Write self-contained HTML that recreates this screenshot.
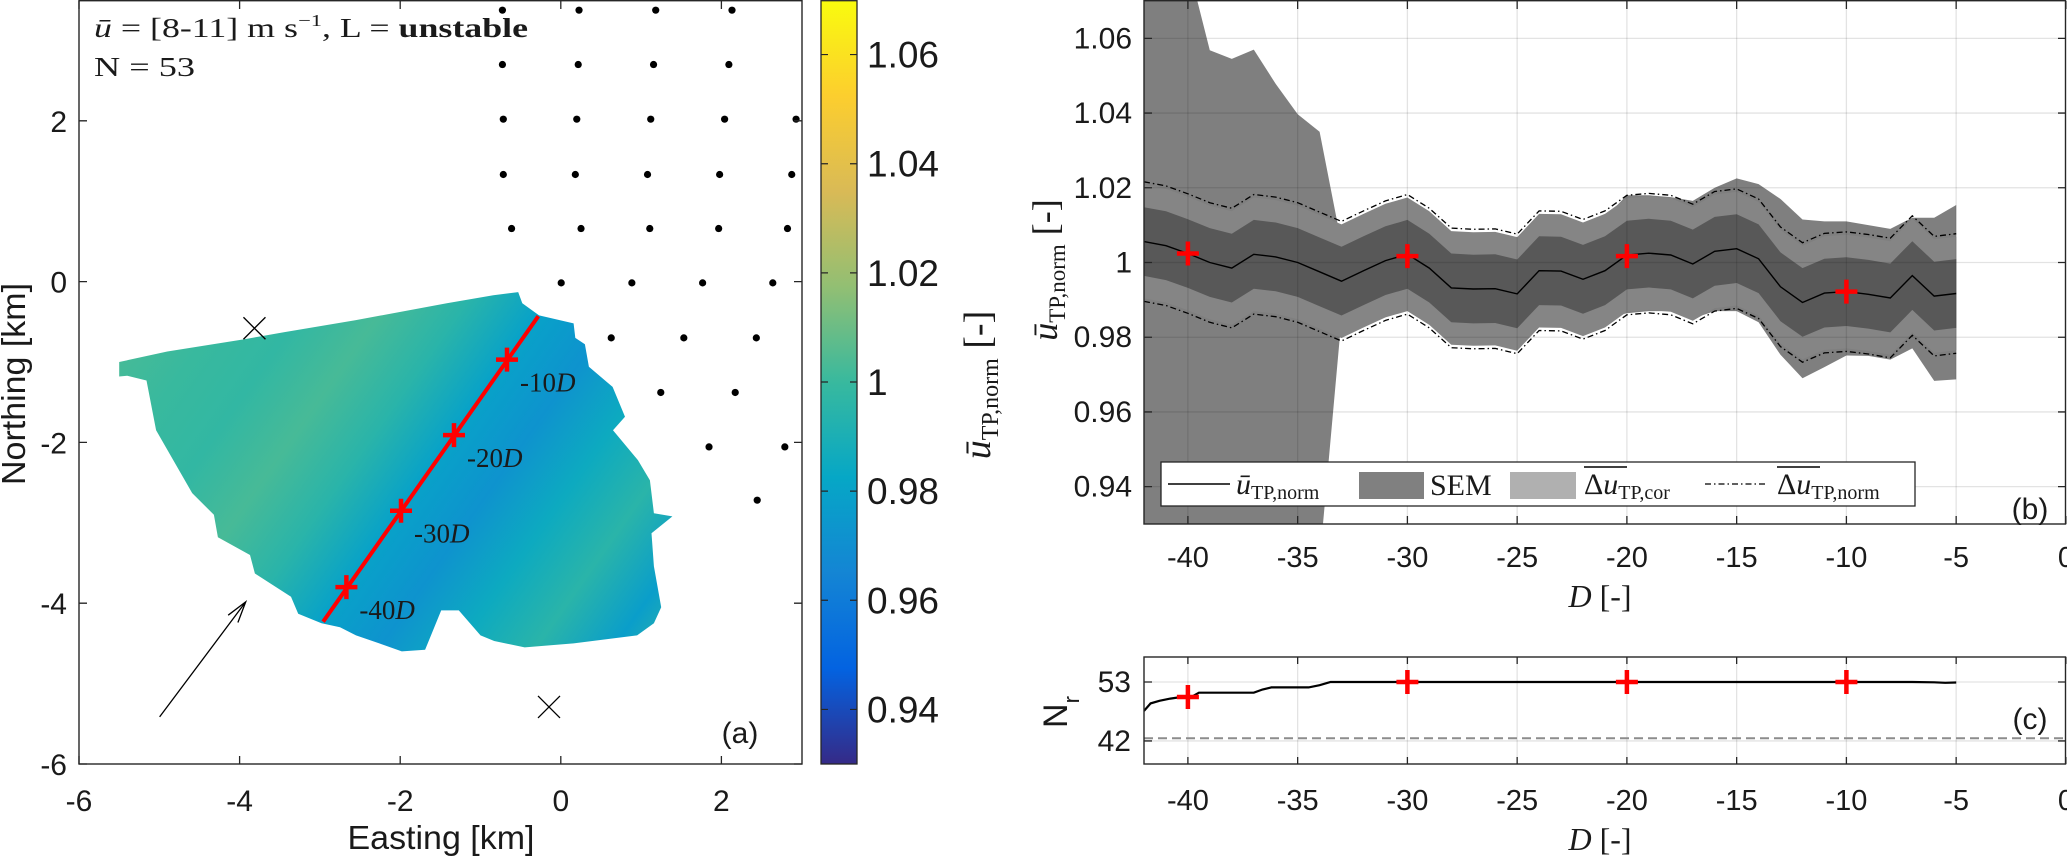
<!DOCTYPE html>
<html><head><meta charset="utf-8">
<style>
html,body{margin:0;padding:0;background:#fff;}
svg{display:block;}
text{fill:#1a1a1a;}
.sans{font-family:"Liberation Sans",Arial,sans-serif;}
.serif{font-family:"Liberation Serif","Times New Roman",serif;}
</style></head>
<body>
<svg id="fig" xmlns="http://www.w3.org/2000/svg" width="2067" height="861" viewBox="0 0 2067 861">
<defs>
<clipPath id="clipA"><rect x="79" y="0" width="723" height="764"/></clipPath>
<clipPath id="clipB"><rect x="1144" y="1" width="922" height="523"/></clipPath>
<clipPath id="clipC"><rect x="1144" y="657" width="922" height="107"/></clipPath>
<linearGradient id="cbGrad" x1="0" y1="1" x2="0" y2="0"></linearGradient>
<linearGradient id="fieldGrad" gradientUnits="userSpaceOnUse" x1="190" y1="250" x2="713" y2="618"></linearGradient>
</defs>
<g id="panelA"></g>
<g id="cbar"></g>
<g id="panelB"></g>
<g id="panelC"></g>

<text class="serif" x="94" y="37" font-size="27" textLength="434" lengthAdjust="spacingAndGlyphs"><tspan font-style="italic">ū</tspan> = [8-11] m s<tspan font-size="17" dy="-11">−1</tspan><tspan dy="11">, L = </tspan><tspan font-weight="bold">unstable</tspan></text>
<text class="serif" x="94" y="76" font-size="27" textLength="101" lengthAdjust="spacingAndGlyphs">N = 53</text>

<text class="sans" x="441" y="849" font-size="33" text-anchor="middle" textLength="187" lengthAdjust="spacingAndGlyphs">Easting [km]</text>
<text class="sans" transform="translate(25,384) rotate(-90)" font-size="33" text-anchor="middle" textLength="202" lengthAdjust="spacingAndGlyphs">Northing [km]</text>
<text class="sans" x="740" y="743" font-size="30" text-anchor="middle">(a)</text>

<text class="serif" transform="translate(990,385) rotate(-90)" font-size="38" text-anchor="middle"><tspan font-style="italic">ū</tspan><tspan font-size="24" dy="8">TP,norm</tspan><tspan dy="-8"> [-]</tspan></text>
<text class="serif" transform="translate(1057,270) rotate(-90)" font-size="36" text-anchor="middle"><tspan font-style="italic">ū</tspan><tspan font-size="23" dy="8">TP,norm</tspan><tspan dy="-8"> [-]</tspan></text>
<text class="serif" x="1600" y="607" font-size="32" text-anchor="middle"><tspan font-style="italic">D</tspan> [-]</text>
<text class="sans" x="2030" y="519" font-size="30" text-anchor="middle">(b)</text>

<text class="sans" transform="translate(1067,712) rotate(-90)" font-size="34" text-anchor="middle">N<tspan font-size="22" dy="12">r</tspan></text>
<text class="serif" x="1600" y="850" font-size="32" text-anchor="middle"><tspan font-style="italic">D</tspan> [-]</text>
<text class="sans" x="2030" y="729" font-size="30" text-anchor="middle">(c)</text>

<g id="legend">
<rect x="1161" y="462" width="754" height="44" fill="#fff" stroke="#262626" stroke-width="1.3"/>
<line x1="1168" y1="484" x2="1230" y2="484" stroke="#000" stroke-width="1.5"/>
<text class="serif" x="1236" y="494" font-size="30"><tspan font-style="italic">ū</tspan><tspan font-size="20" dy="5">TP,norm</tspan></text>
<rect x="1359" y="472" width="65" height="27" fill="#808080"/>
<text class="serif" x="1430" y="495" font-size="30">SEM</text>
<rect x="1510" y="472" width="66" height="27" fill="#b0b0b0"/>
<line x1="1584" y1="467" x2="1627" y2="467" stroke="#000" stroke-width="1.5"/>
<text class="serif" x="1584" y="494" font-size="30">Δ<tspan font-style="italic">u</tspan><tspan font-size="20" dy="5">TP,cor</tspan></text>
<line x1="1705" y1="484" x2="1767" y2="484" stroke="#000" stroke-width="1.3" stroke-dasharray="6,3,1.5,3"/>
<line x1="1777" y1="467" x2="1820" y2="467" stroke="#000" stroke-width="1.5"/>
<text class="serif" x="1777" y="494" font-size="30">Δ<tspan font-style="italic">u</tspan><tspan font-size="20" dy="5">TP,norm</tspan></text>
</g>
</svg>
<script>
// ---------------- data ----------------
const parulaStops = ['#352a87','#0363e1','#1485d4','#06a7c6','#38b99e','#92bf73','#d9ba56','#fcce2e','#f9fb0e'];
const cbTicks = [0.94,0.96,0.98,1,1.02,1.04,1.06];
const cbTickLabels = ['0.94','0.96','0.98','1','1.02','1.04','1.06'];
const mapXTicks = [-6,-4,-2,0,2];
const mapYTicks = [-6,-4,-2,0,2];
const fieldX = [-5.5,-4.9,-3.96,-3.45,-2.56,-1.42,-0.84,-0.53,-0.48,-0.27,0.16,0.18,0.30,0.35,0.645,0.80,0.65,0.96,1.11,1.16,1.39,1.13,1.16,1.25,1.16,0.95,0.16,-0.45,-0.83,-1.0,-1.27,-1.49,-1.69,-1.98,-2.26,-2.55,-2.75,-2.98,-3.27,-3.36,-3.81,-3.87,-4.27,-4.32,-4.59,-5.04,-5.16,-5.4,-5.5];
const fieldY = [-1.0,-0.87,-0.72,-0.63,-0.48,-0.27,-0.17,-0.13,-0.27,-0.42,-0.52,-0.70,-0.78,-1.06,-1.31,-1.68,-1.85,-2.22,-2.47,-2.88,-2.92,-3.13,-3.54,-4.05,-4.25,-4.4,-4.5,-4.55,-4.47,-4.4,-4.09,-4.09,-4.58,-4.6,-4.5,-4.4,-4.3,-4.25,-4.13,-3.92,-3.63,-3.4,-3.18,-2.9,-2.63,-1.85,-1.23,-1.17,-1.18];
const stripeVals = [1.003,1.000,0.998,1.003,0.995,0.980,0.972,0.985,0.995,0.978,1.000];
const turbX = [-0.727,0.227,1.182,2.132, -0.727,0.217,1.155,2.093, -0.716,0.199,1.12,2.04,2.93, -0.716,0.181,1.08,1.978,2.876, -0.613,0.252,1.108,1.966,2.823, 0.005,0.885,1.766,2.64, 0.628,1.532,2.435, 1.245,2.172, 1.846,2.79, 2.446];
const turbY = [3.376,3.376,3.376,3.376, 2.70,2.70,2.70,2.70, 2.02,2.02,2.02,2.02,2.02, 1.332,1.332,1.332,1.332,1.332, 0.66,0.66,0.66,0.66,0.66, -0.016,-0.016,-0.016,-0.016, -0.70,-0.70,-0.70, -1.379,-1.379, -2.056,-2.056, -2.719];
const transectX = [-2.96,-0.28];
const transectY = [-4.23,-0.43];
const crossX = [-0.67,-1.33,-1.99,-2.67];
const crossY = [-0.97,-1.91,-2.85,-3.80];
const crossLabels = ['-10','-20','-30','-40'];
const mastX = [-3.815,-0.147];
const mastY = [-0.58,-5.29];
const windArrowX = [-4.996,-3.924];
const windArrowY = [-5.414,-3.984];

const dVals = [-42,-41,-40,-39,-38,-37,-36,-35,-34,-33,-32,-31,-30,-29,-28,-27,-26,-25,-24,-23,-22,-21,-20,-19,-18,-17,-16,-15,-14,-13,-12,-11,-10,-9,-8,-7,-6,-5];
const meanVals = [1.0056,1.0045,1.0024,1.0000,0.9985,1.0022,1.0015,1.0000,0.9975,0.9950,0.9978,1.0005,1.0022,0.9985,0.9932,0.9929,0.9930,0.9916,0.9978,0.9977,0.9955,0.9978,1.0020,1.0025,1.0020,0.9996,1.0030,1.0037,1.0010,0.9935,0.9893,0.9918,0.9922,0.9915,0.9905,0.9965,0.9910,0.9917];
const semUpper = [1.08,1.08,1.08,1.0568,1.0545,1.0570,1.0478,1.0397,1.0350,1.0050,1.010,1.012,1.014,1.012,1.006,1.005,1.005,1.004,1.010,1.010,1.008,1.012,1.018,1.018,1.0175,1.0165,1.020,1.0225,1.021,1.017,1.0115,1.011,1.011,1.010,1.009,1.012,1.012,1.0154];
const semLower = [0.92,0.92,0.92,0.92,0.92,0.92,0.92,0.92,0.92,0.985,0.987,0.990,0.991,0.988,0.982,0.981,0.981,0.980,0.986,0.986,0.984,0.985,0.9864,0.987,0.987,0.985,0.987,0.987,0.984,0.9753,0.969,0.972,0.9751,0.975,0.974,0.977,0.9683,0.9687];
const corHalf = [0.0152,0.0152,0.0152,0.0152,0.0152,0.0152,0.0152,0.0152,0.0152,0.0152,0.0152,0.0152,0.0152,0.0152,0.0152,0.0152,0.0152,0.0152,0.0152,0.0152,0.0152,0.0152,0.0152,0.0152,0.0152,0.0152,0.0152,0.0152,0.0152,0.0152,0.0152,0.0152,0.0152,0.0152,0.0152,0.0152,0.0152,0.0152];
const innerHalf = [0.0092,0.0092,0.0092,0.0092,0.0092,0.0092,0.0092,0.0092,0.0092,0.0092,0.0092,0.0092,0.0092,0.0092,0.0092,0.0092,0.0092,0.0092,0.0092,0.0092,0.0092,0.0092,0.0092,0.0092,0.0092,0.0092,0.0092,0.0092,0.0092,0.0092,0.0092,0.0092,0.0092,0.0092,0.0092,0.0092,0.0092,0.0092];
const normHalf = [0.0160,0.0160,0.0160,0.0160,0.0160,0.0160,0.0160,0.0160,0.0160,0.0160,0.0160,0.0160,0.0160,0.0160,0.0160,0.0160,0.0160,0.0160,0.0160,0.0160,0.0160,0.0160,0.0160,0.0160,0.0160,0.0160,0.0160,0.0160,0.0160,0.0160,0.0160,0.0160,0.0160,0.0160,0.0160,0.0160,0.0160,0.0160];
const markD = [-40,-30,-20,-10];
const markU = [1.0024,1.0017,1.0017,0.9922];
const bXTicks = [-40,-35,-30,-25,-20,-15,-10,-5,0];
const bYTicks = [0.94,0.96,0.98,1,1.02,1.04,1.06];
const bYTickLabels = ['0.94','0.96','0.98','1','1.02','1.04','1.06'];
const nD = [-42,-41.7,-41.3,-40.8,-40.3,-39.8,-39.5,-37,-36.6,-36.2,-34.5,-34,-33.5,-7,-6,-5.5,-5];
const nVal = [47.6,49.0,49.5,49.9,50.2,50.3,51.0,51.0,51.6,52.0,52.0,52.4,53.0,53.0,52.95,52.85,52.9];
const nMarkD = [-40,-30,-20,-10];
const nMarkN = [50.2,53,53,53];
const cYTicks = [42,53];
const nThreshold = [42.5];

// ---------------- helpers ----------------
const NS = 'http://www.w3.org/2000/svg';
function mk(tag, attrs, parent){ const e=document.createElementNS(NS,tag); for(const k in attrs) e.setAttribute(k,attrs[k]); parent.appendChild(e); return e; }
function hex2rgb(h){return [parseInt(h.substr(1,2),16),parseInt(h.substr(3,2),16),parseInt(h.substr(5,2),16)];}
function parula(v){ let t=(v-0.93)/0.14; t=Math.max(0,Math.min(1,t)); const p=t*(parulaStops.length-1); const i=Math.min(Math.floor(p),parulaStops.length-2); const f=p-i; const a=hex2rgb(parulaStops[i]), b=hex2rgb(parulaStops[i+1]); return 'rgb('+a.map((c,k)=>Math.round(c+(b[k]-c)*f)).join(',')+')'; }
const ax = x => 79 + (x+6)*80.3;
const ay = y => 764 - (y+6)*80.4;
const cby = v => 764 - (v-0.93)/0.14*764;
const bx = d => 1144 + (d+42)*21.95;
const by = v => 524 - (v-0.93)/0.14*523;
const cy = n => 764 - (n-37.7)*5.36;

// ---------------- panel A ----------------
const A = document.getElementById('panelA');
const fg = document.getElementById('fieldGrad');
stripeVals.forEach((v,i)=>{
  mk('stop',{offset:(i/(stripeVals.length-1)).toFixed(3),'stop-color':parula(v)},fg);
});
const gA = mk('g',{'clip-path':'url(#clipA)'},A);


const field = mk('polygon',{points:fieldX.map((x,i)=>ax(x).toFixed(1)+','+ay(fieldY[i]).toFixed(1)).join(' '),fill:'url(#fieldGrad)'},gA);


turbX.forEach((x,i)=>{
  const c = mk('circle',{cx:ax(x),cy:ay(turbY[i]),r:3.6,fill:'#000'},gA);
  
  
});
mastX.forEach((x,i)=>{
  const px=ax(x), py=ay(mastY[i]);
  const m = mk('path',{d:`M${px-11},${py-11}L${px+11},${py+11}M${px-11},${py+11}L${px+11},${py-11}`,stroke:'#000','stroke-width':1.3,fill:'none'},gA);
  
  
});
{
  const x0=ax(windArrowX[0]), y0=ay(windArrowY[0]), x1=ax(windArrowX[1]), y1=ay(windArrowY[1]);
  const ang=Math.atan2(y1-y0,x1-x0), L=22, sp=0.28;
  const d=`M${x0},${y0}L${x1},${y1}M${x1-L*Math.cos(ang-sp)},${y1-L*Math.sin(ang-sp)}L${x1},${y1}L${x1-L*Math.cos(ang+sp)},${y1-L*Math.sin(ang+sp)}`;
  const ar = mk('path',{d:d,stroke:'#000','stroke-width':1.3,fill:'none'},gA);
  
  
}
const tl = mk('line',{x1:ax(transectX[0]),y1:ay(transectY[0]),x2:ax(transectX[1]),y2:ay(transectY[1]),stroke:'#ff0000','stroke-width':4},gA);


crossX.forEach((x,i)=>{
  const px=ax(x), py=ay(crossY[i]);
  const c = mk('path',{d:`M${px-11},${py}L${px+11},${py}M${px},${py-12}L${px},${py+12}`,stroke:'#ff0000','stroke-width':4.5},gA);
  
  
  const t = mk('text',{x:px+13,y:py+32,'font-size':27,class:'serif'},A);
  t.textContent = crossLabels[i];
  const ts = mk('tspan',{'font-style':'italic'},t);
  ts.textContent='D';
  
  
});
const boxA = mk('rect',{x:79,y:0.7,width:723,height:763.3,fill:'none',stroke:'#262626','stroke-width':1.4},A);


mapXTicks.forEach(v=>{
  const x=ax(v);
  const tk = mk('path',{d:`M${x},764v-8M${x},1v8`,stroke:'#262626','stroke-width':1.3},A);
  
  
  const t = mk('text',{x:x,y:811,'font-size':30,'text-anchor':'middle',class:'sans'},A);
  t.textContent = String(v);
  
  
});
mapYTicks.forEach(v=>{
  const y=ay(v);
  const tk = mk('path',{d:`M79,${y}h8M802,${y}h-8`,stroke:'#262626','stroke-width':1.3},A);
  
  
  const t = mk('text',{x:67,y:y+11,'font-size':30,'text-anchor':'end',class:'sans'},A);
  t.textContent = String(v);
  
  
});

// ---------------- colorbar ----------------
const CB = document.getElementById('cbar');
const cg = document.getElementById('cbGrad');
parulaStops.forEach((c,i)=>{ mk('stop',{offset:(i/(parulaStops.length-1)).toFixed(3),'stop-color':c},cg); });
const cbr = mk('rect',{x:821,y:0.7,width:36,height:763.3,fill:'url(#cbGrad)',stroke:'#262626','stroke-width':1.3},CB);


cbTicks.forEach((v,i)=>{
  const y=cby(v);
  const tk = mk('path',{d:`M857,${y}h-7M821,${y}h7`,stroke:'#262626','stroke-width':1.2},CB);
  
  
  const t = mk('text',{x:867,y:y+13,'font-size':37,class:'sans'},CB);
  t.textContent = cbTickLabels[i];
  
  
});

// ---------------- panel B ----------------
const B = document.getElementById('panelB');
const gB = mk('g',{'clip-path':'url(#clipB)'},B);


function band(up,lo){
  let d='M'+dVals.map((dd,i)=>bx(dd).toFixed(1)+','+by(up[i]).toFixed(1)).join('L');
  for(let i=dVals.length-1;i>=0;i--) d+='L'+bx(dVals[i]).toFixed(1)+','+by(lo[i]).toFixed(1);
  return d+'Z';
}
const sem = mk('path',{d:band(semUpper,semLower),fill:'#7f7f7f'},gB);


const cor = mk('path',{d:band(meanVals.map((m,i)=>m+corHalf[i]),meanVals.map((m,i)=>m-corHalf[i])),fill:'#858585'},gB);


const inner = mk('path',{d:band(meanVals.map((m,i)=>m+innerHalf[i]),meanVals.map((m,i)=>m-innerHalf[i])),fill:'#585858'},gB);


function line(vals){ return 'M'+dVals.map((dd,i)=>bx(dd).toFixed(1)+','+by(vals[i]).toFixed(1)).join('L'); }
const nu = mk('path',{d:line(meanVals.map((m,i)=>m+normHalf[i])),fill:'none',stroke:'#000','stroke-width':1.3,'stroke-dasharray':'6,3,1.5,3'},gB);


const nl = mk('path',{d:line(meanVals.map((m,i)=>m-normHalf[i])),fill:'none',stroke:'#000','stroke-width':1.3,'stroke-dasharray':'6,3,1.5,3'},gB);


const ml = mk('path',{d:line(meanVals),fill:'none',stroke:'#000','stroke-width':1.4},gB);


bXTicks.forEach(v=>{
  const g = mk('line',{x1:bx(v),y1:1,x2:bx(v),y2:524,stroke:'rgba(0,0,0,0.11)','stroke-width':1.3},gB);
  
  
});
bYTicks.forEach(v=>{
  const g = mk('line',{x1:1144,y1:by(v),x2:2066,y2:by(v),stroke:'rgba(0,0,0,0.11)','stroke-width':1.3},gB);
  
  
});
markD.forEach((d,i)=>{
  const px=bx(d), py=by(markU[i]);
  const c = mk('path',{d:`M${px-11},${py}L${px+11},${py}M${px},${py-12}L${px},${py+12}`,stroke:'#ff0000','stroke-width':4.5},gB);
  
  
});
const boxB = mk('rect',{x:1144,y:0.7,width:921.5,height:523.3,fill:'none',stroke:'#262626','stroke-width':1.4},B);


bXTicks.forEach(v=>{
  const x=bx(v);
  const tk = mk('path',{d:`M${x},524v-8M${x},1v8`,stroke:'#262626','stroke-width':1.3},B);
  
  
  const t = mk('text',{x:x,y:567,'font-size':29,'text-anchor':'middle',class:'sans'},B);
  t.textContent = String(v);
  
  
});
bYTicks.forEach((v,i)=>{
  const y=by(v);
  const tk = mk('path',{d:`M1144,${y}h8M2066,${y}h-8`,stroke:'#262626','stroke-width':1.3},B);
  
  
  const t = mk('text',{x:1132,y:y+10,'font-size':30,'text-anchor':'end',class:'sans'},B);
  t.textContent = bYTickLabels[i];
  
  
});

// ---------------- panel C ----------------
const C = document.getElementById('panelC');
const gC = mk('g',{'clip-path':'url(#clipC)'},C);


bXTicks.forEach(v=>{
  const g = mk('line',{x1:bx(v),y1:657,x2:bx(v),y2:764,stroke:'rgba(0,0,0,0.11)','stroke-width':1.3},gC);
  
  
});
cYTicks.forEach(v=>{
  const g = mk('line',{x1:1144,y1:cy(v),x2:2066,y2:cy(v),stroke:'rgba(0,0,0,0.11)','stroke-width':1.3},gC);
  
  
});
const thr = mk('line',{x1:1144,y1:cy(nThreshold[0]),x2:2066,y2:cy(nThreshold[0]),stroke:'#8c8c8c','stroke-width':2,'stroke-dasharray':'9,5'},gC);


const nl2 = mk('path',{d:'M'+nD.map((d,i)=>bx(d).toFixed(1)+','+cy(nVal[i]).toFixed(1)).join('L'),fill:'none',stroke:'#000','stroke-width':2.2},gC);


nMarkD.forEach((d,i)=>{
  const px=bx(d), py=cy(nMarkN[i]);
  const c = mk('path',{d:`M${px-11},${py}L${px+11},${py}M${px},${py-12}L${px},${py+12}`,stroke:'#ff0000','stroke-width':4.5},gC);
  
  
});
const boxC = mk('rect',{x:1144,y:657,width:921.5,height:107,fill:'none',stroke:'#262626','stroke-width':1.4},C);


bXTicks.forEach(v=>{
  const x=bx(v);
  const tk = mk('path',{d:`M${x},764v-7M${x},657v7`,stroke:'#262626','stroke-width':1.3},C);
  
  
  const t = mk('text',{x:x,y:810,'font-size':29,'text-anchor':'middle',class:'sans'},C);
  t.textContent = String(v);
  
  
});
cYTicks.forEach(v=>{
  const y=cy(v);
  const tk = mk('path',{d:`M1144,${y}h8M2066,${y}h-8`,stroke:'#262626','stroke-width':1.3},C);
  
  
  const t = mk('text',{x:1131,y:y+10,'font-size':30,'text-anchor':'end',class:'sans'},C);
  t.textContent = String(v);
  
  
});
document.getElementById('fig').appendChild(document.getElementById('legend'));
</script>
</body></html>
